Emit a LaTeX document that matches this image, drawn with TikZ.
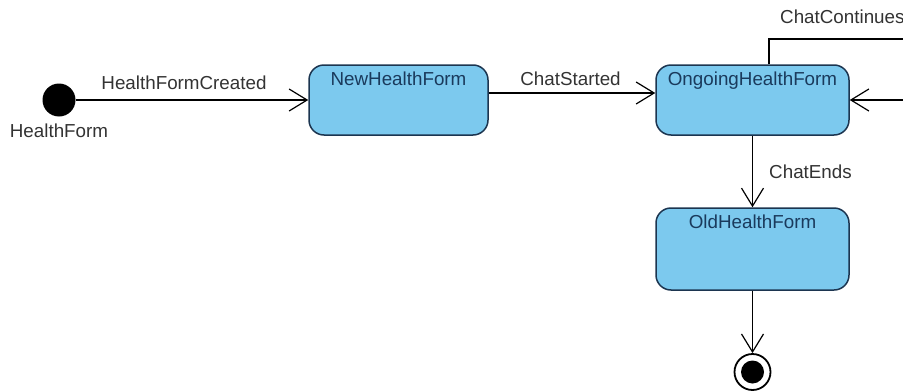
\documentclass[tikz,border=0pt]{standalone}
\usepackage{fontspec}
\setmainfont{Liberation Sans}
\usetikzlibrary{arrows.meta}
\definecolor{statefill}{HTML}{7CC9EE}
\definecolor{stateline}{HTML}{1C3550}
\definecolor{statetext}{HTML}{1A3A5C}
\definecolor{evtext}{HTML}{333333}
\begin{document}
\begin{tikzpicture}[x=1pt,y=-1pt,
  every node/.style={font=\fontsize{18.8}{22}\selectfont},
  statebox/.style={draw=stateline, fill=statefill, line width=1.5pt,
    rounded corners=15pt, inner sep=0pt},
  boxname/.style={anchor=north, inner sep=0pt, text=statetext, yshift=-7.5pt},
  trans/.style={draw=black, line width=1.2pt,
    -{Straight Barb[length=18pt, width=22pt, line width=1.2pt]}},
  evlabel/.style={text=evtext, inner sep=0pt}]
  \path[use as bounding box] (0,0) rectangle (903,391);
  \clip (0,0) rectangle (903,391);

  % pseudo states
  \node[circle, fill=black, minimum size=33pt, inner sep=0pt] (init) at (59,100) {};
  \node[evlabel] (initname) at (59,131) {HealthForm};
  \node[circle, draw=black, fill=white, line width=1.8pt, minimum size=36pt,
        inner sep=0pt] (final) at (752.5,372) {};
  \fill[black] (final.center) circle (11.5);

  % states
  \node[statebox, minimum width=179pt, minimum height=70pt,
        label={[boxname]north:NewHealthForm}] (new) at (398.5,100) {};
  \node[statebox, minimum width=193pt, minimum height=70pt,
        label={[boxname]north:OngoingHealthForm}] (ong) at (752.5,100) {};
  \node[statebox, minimum width=193pt, minimum height=82pt,
        label={[boxname]north:OldHealthForm}] (old) at (752.5,249) {};

  % loop corners outside the visible area
  \coordinate (loopA) at (960,39);
  \coordinate (loopB) at (960,100);

  % transitions
  \draw[trans] (init) -- (new);
  \draw[trans] ([yshift=7pt]new.east) -- ([yshift=7pt]ong.west);
  \draw[trans] ([xshift=16.5pt]ong.north) |- (loopA) -- (loopB) -- (ong.east);
  \draw[trans] (ong.south) -- (old.north);
  \draw[trans] (old.south) -- (final.north);

  % events
  \node[evlabel] (evcreated) at (184,82.5) {HealthFormCreated};
  \node[evlabel] (evstarted) at (570.5,79) {ChatStarted};
  \node[evlabel, anchor=base west] (evcont) at (780,23) {ChatContinues};
  \node[evlabel] (evends) at (810.5,172) {ChatEnds};
\end{tikzpicture}
\end{document}
